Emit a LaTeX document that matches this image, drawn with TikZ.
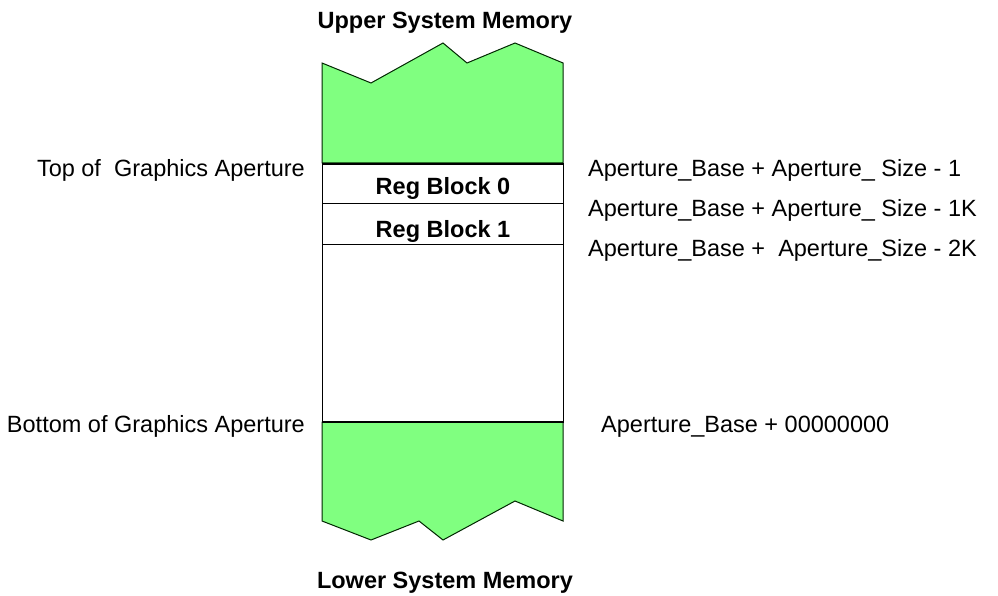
\documentclass[tikz,border=0pt]{standalone}
\usepackage{fontspec}
\setmainfont{Liberation Sans}
\begin{document}
\begin{tikzpicture}[x=1pt,y=-1pt,
  lbl/.style={font=\fontsize{23.5}{28}\selectfont, inner sep=0pt},
  title/.style={font=\fontsize{23.5}{28}\selectfont\bfseries, inner sep=0pt, anchor=base},
  mem/.style={draw=black!85!green, fill=green!50!white, line width=1pt, line join=miter}]
\useasboundingbox (0,0) rectangle (998,596);
% upper memory
\draw[mem] (322,163) -- (322,63) -- (371,83) -- (443,43) -- (467,63) -- (515,43) -- (563,63) -- (563,163) -- cycle;
% lower memory
\draw[mem] (322,422) -- (322,521) -- (371,540) -- (419,521) -- (443,540) -- (515,501) -- (563,521) -- (563,422) -- cycle;
% aperture
\draw[line width=1pt] (322,164) rectangle (563,422);
\draw[line width=1.5pt] (322,164) -- (563,164);
\draw[line width=1.5pt] (322,422) -- (563,422);
\draw[line width=0.8pt] (322,203) -- (563,203);
\draw[line width=0.8pt] (322,244) -- (563,244);
\node[title] (rb0) at (443,195) {Reg Block 0};
\node[title] (rb1) at (443,237) {Reg Block 1};
\node[title] (up) at (445,29) {Upper System Memory};
\node[title] (lo) at (445,588) {Lower System Memory};
\node[lbl, anchor=base east] (top) at (305,177) {Top of\ \ Graphics Aperture};
\node[lbl, anchor=base east] (bot) at (305,432) {Bottom of Graphics Aperture};
\node[lbl, anchor=base west] (a1) at (588,177) {Aperture\_Base + Aperture\_ Size - 1};
\node[lbl, anchor=base west] (a2) at (588,216) {Aperture\_Base + Aperture\_ Size - 1K};
\node[lbl, anchor=base west] (a3) at (588,256) {Aperture\_Base +\ \ Aperture\_Size - 2K};
\node[lbl, anchor=base west] (a4) at (601,432) {Aperture\_Base + 00000000};
\end{tikzpicture}
\end{document}
